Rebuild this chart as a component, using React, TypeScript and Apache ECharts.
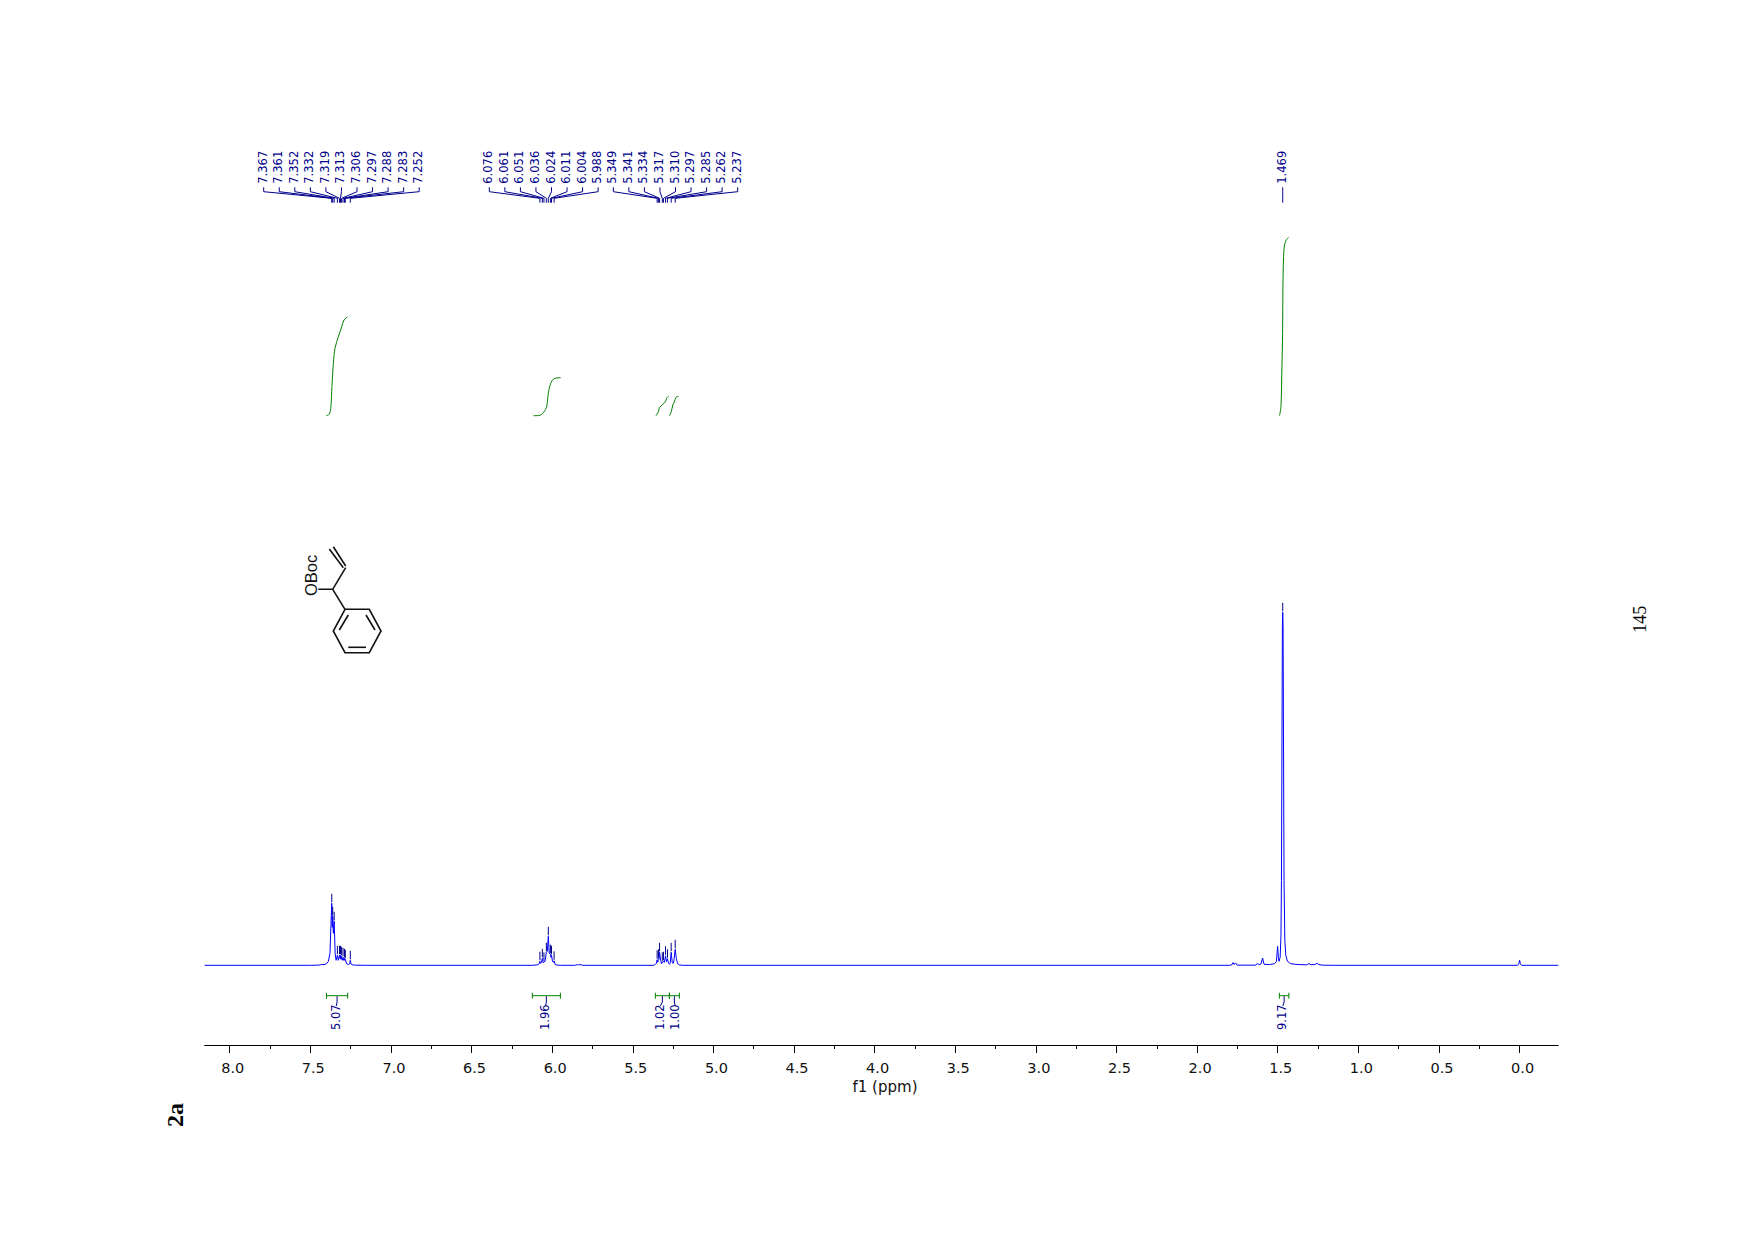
import React, { useEffect, useRef } from "react";
import * as echarts from "echarts";

// Spectrum: [ppm, intensity]
const spectrumAromatic = [[8.155,0],[7.5,0],[7.445,0.2],[7.43,0.8],[7.415,0.6],[7.40,1.5],[7.388,4],[7.378,12],[7.372,40],[7.367,62],[7.364,38],[7.361,49],[7.357,32],[7.352,44],[7.346,12],[7.34,5],[7.332,10],[7.326,5],[7.319,10],[7.316,7],[7.313,10],[7.31,6],[7.306,9],[7.302,5],[7.297,8],[7.293,5],[7.288,7],[7.286,5],[7.283,6],[7.275,1.5],[7.262,0.8],[7.256,1.5],[7.252,5],[7.248,1.5],[7.24,0.5],[7.22,0.1],[7.15,0]];
const spectrumVinylCH = [[6.12,0],[6.09,0.5],[6.08,1.5],[6.076,4],[6.071,2],[6.066,3],[6.061,7],[6.056,2.5],[6.051,3.5],[6.044,4],[6.036,13],[6.03,14],[6.024,29],[6.018,12],[6.011,11],[6.007,8],[6.004,10],[5.998,4],[5.992,3],[5.988,4.5],[5.982,1],[5.97,0.2],[5.95,0]];
const spectrumSmall = [[5.86,0],[5.843,0.8],[5.835,0.2],[5.827,0.8],[5.81,0]];
const spectrumVinylCH2 = [[5.37,0],[5.36,1],[5.354,2],[5.349,5.5],[5.345,3],[5.341,6.5],[5.337,6],[5.334,13],[5.327,5],[5.322,1.5],[5.317,3.5],[5.313,3],[5.31,4],[5.304,3],[5.297,9.5],[5.291,3.5],[5.285,6.5],[5.278,2],[5.272,1],[5.267,3],[5.262,13],[5.255,2.5],[5.248,2],[5.243,7],[5.237,16],[5.23,7],[5.222,1.5],[5.21,0.3],[5.19,0]];
const spectrumAliphatic = [[1.8,0],[1.786,0.3],[1.778,2.7],[1.77,0.8],[1.762,2.4],[1.752,0.2],[1.64,0.1],[1.625,1.7],[1.615,0.6],[1.604,1.4],[1.594,7.3],[1.585,1],[1.55,0.8],[1.52,1.6],[1.508,4],[1.501,19],[1.496,8],[1.492,4],[1.485,8],[1.48,30],[1.477,85],[1.471,340],[1.469,353],[1.467,340],[1.461,85],[1.456,25],[1.45,10],[1.44,4],[1.42,1.6],[1.38,0.8],[1.32,0.5],[1.306,1.7],[1.295,0.6],[1.27,0.7],[1.257,2],[1.245,0.7],[1.22,0.1],[1.15,0],[0.012,0],[0.005,1.5],[0,5],[-0.005,1.5],[-0.012,0],[-0.24,0]];

// Picked peaks: ppm and the height of the peak each label belongs to
const aromaticPpm = [7.367,7.361,7.352,7.332,7.319,7.313,7.306,7.297,7.288,7.283,7.252];
const aromaticHeight = [62,49,44,10,10,10,9,8,7,6,5];
const vinylCHPpm = [6.076,6.061,6.051,6.036,6.024,6.011,6.004,5.988];
const vinylCHHeight = [4,7,3.5,13,29,11,10,4.5];
const vinylCH2Ppm = [5.349,5.341,5.334,5.317,5.31,5.297,5.285,5.262,5.237];
const vinylCH2Height = [5.5,6.5,13,3.5,4,9.5,6.5,13,16];
const tertButylPpm = [1.469];
const tertButylHeight = [353];

// Integral regions: [from ppm, to ppm, value]
const integralRegions = [[7.40,7.268,"5.07"],[6.123,5.949,"1.96"],[5.36,5.273,"1.02"],[5.273,5.211,"1.00"],[1.49,1.431,"9.17"]];

// Integral curves: [ppm, height]
const integralCurve1 = [[7.401,549.6],[7.382,551.3],[7.372,558.6],[7.366,578.6],[7.357,602],[7.347,617],[7.326,628.6],[7.305,638.6],[7.291,645.3],[7.27,648.3]];
const integralCurve2 = [[6.116,549.6],[6.075,550],[6.05,553.6],[6.034,558.6],[6.024,572],[6.009,582],[5.988,586.6],[5.947,587.6]];
const integralCurve3 = [[5.356,549.6],[5.341,553.6],[5.335,557.6],[5.314,561],[5.298,563.6],[5.29,567],[5.277,569.3]];
const integralCurve4 = [[5.273,549.6],[5.261,553.6],[5.252,560.3],[5.242,563.6],[5.232,568],[5.215,569]];
const integralCurve5 = [[1.489,549.6],[1.48,558.6],[1.474,598.6],[1.47,632],[1.468,675.3],[1.464,708.6],[1.458,720.3],[1.447,725.3],[1.433,728]];

const majorTicks = [0,0.5,1,1.5,2,2.5,3,3.5,4,4.5,5,5.5,6,6.5,7,7.5,8];
const minorTicks = [0.25,0.75,1.25,1.75,2.25,2.75,3.25,3.75,4.25,4.75,5.25,5.75,6.25,6.75,7.25,7.75];

const NAVY = "#00008b";
const GREEN = "#008000";
const FONT = "DejaVu Sans";

const peakSeries = (ppm: number[], height: number[], firstLabelX: number | null) => ({
  type: "custom",
  xAxisIndex: 0,
  yAxisIndex: 0,
  z: 5,
  clip: false,
  silent: true,
  data: ppm.map((p, i) => [p, height[i]]),
  encode: { x: 0, y: 1 },
  renderItem: (params: any, api: any) => {
    const pt = api.coord([api.value(0), api.value(1)]);
    const tx = firstLabelX === null ? pt[0] : firstLabelX + params.dataIndex * 15.55;
    const stroke = { stroke: NAVY, lineWidth: 1, fill: "none" };
    return {
      type: "group",
      children: [
        { type: "polyline", shape: { points: [[tx, 187.3], [tx, 191.7], [pt[0], 198.3], [pt[0], 202.7]] }, style: stroke },
        { type: "line", shape: { x1: pt[0], y1: pt[1] - 1, x2: pt[0], y2: pt[1] - 9.5 }, style: { stroke: NAVY, lineWidth: 1 } },
        {
          type: "text",
          x: tx - 1,
          y: 183.7,
          rotation: Math.PI / 2,
          style: { text: api.value(0).toFixed(3), fill: NAVY, font: `11.5px "${FONT}"`, textAlign: "left", textVerticalAlign: "middle" },
        },
      ],
    };
  },
});

const labelNudge = [-0.8, -0.8, -2, 0.8, -1.3];

const integralSeries = {
  type: "custom",
  xAxisIndex: 0,
  yAxisIndex: 0,
  z: 5,
  clip: false,
  silent: true,
  data: integralRegions.map((r, i) => [r[0], r[1], i]),
  encode: { x: [0, 1] },
  renderItem: (params: any, api: any) => {
    const a = api.coord([api.value(0), 0])[0];
    const b = api.coord([api.value(1), 0])[0];
    const i = api.value(2);
    const mid = (a + b) / 2;
    const lx = mid + labelNudge[i];
    const y = 995.7;
    const green = { stroke: GREEN, lineWidth: 1 };
    return {
      type: "group",
      children: [
        { type: "line", shape: { x1: a, y1: y, x2: b, y2: y }, style: green },
        { type: "line", shape: { x1: a, y1: y - 3, x2: a, y2: y + 3 }, style: green },
        { type: "line", shape: { x1: b, y1: y - 3, x2: b, y2: y + 3 }, style: green },
        { type: "polyline", shape: { points: [[mid, y + 0.5], [mid, 1002], [lx, 1006]] }, style: { stroke: NAVY, lineWidth: 1, fill: "none" } },
        {
          type: "text",
          x: lx - 0.5,
          y: 1030,
          rotation: Math.PI / 2,
          style: { text: String(integralRegions[i][2]), fill: NAVY, font: `11.5px "${FONT}"`, textAlign: "left", textVerticalAlign: "middle" },
        },
      ],
    };
  },
};

const curve = (data: number[][]) => ({
  type: "line",
  data,
  xAxisIndex: 0,
  yAxisIndex: 0,
  showSymbol: false,
  smooth: 0.3,
  silent: true,
  lineStyle: { color: GREEN, width: 1 },
});

const bond = (points: number[][]) => ({
  type: "polyline",
  shape: { points },
  style: { stroke: "#111111", lineWidth: 1.6, fill: "none" },
});

export default function App() {
  const ref = useRef<HTMLDivElement>(null);
  useEffect(() => {
    const chart = echarts.init(ref.current!, null, { renderer: "svg" });
    chart.setOption({
      animation: false,
      backgroundColor: "#ffffff",
      grid: { left: 204.7, top: 100, width: 1353.6, height: 945, containLabel: false },
      xAxis: [
        {
          type: "value",
          inverse: true,
          min: -0.24,
          max: 8.155,
          position: "bottom",
          splitLine: { show: false },
          axisLine: { show: true, onZero: false, lineStyle: { color: "#000000", width: 1 } },
          axisTick: { show: true, inside: false, length: 8, customValues: majorTicks, lineStyle: { color: "#000000", width: 1 } },
          axisLabel: { show: true, customValues: majorTicks, margin: 15, padding: [0, 0, 0, 6], color: "#111111", fontFamily: FONT, fontSize: 14.5, formatter: (v: number) => v.toFixed(1) },
          name: "f1 (ppm)",
          nameLocation: "middle",
          nameGap: 29,
          nameTextStyle: { color: "#111111", fontFamily: FONT, fontSize: 15, padding: [0, 0, 0, 7] },
        },
        {
          type: "value",
          inverse: true,
          min: -0.24,
          max: 8.155,
          position: "bottom",
          splitLine: { show: false },
          axisLine: { show: false, onZero: false },
          axisTick: { show: true, length: 4, customValues: minorTicks, lineStyle: { color: "#000000", width: 1 } },
          axisLabel: { show: false },
        },
      ],
      yAxis: { type: "value", min: -79.7, max: 865.3, show: false, splitLine: { show: false } },
      series: [
        {
          type: "line",
          data: [...spectrumAromatic, ...spectrumVinylCH, ...spectrumSmall, ...spectrumVinylCH2, ...spectrumAliphatic],
          xAxisIndex: 0,
          yAxisIndex: 0,
          showSymbol: false,
          silent: true,
          lineStyle: { color: "#0000ff", width: 1 },
          z: 3,
        },
        curve(integralCurve1),
        curve(integralCurve2),
        curve(integralCurve3),
        curve(integralCurve4),
        curve(integralCurve5),
        peakSeries(aromaticPpm, aromaticHeight, 263.7),
        peakSeries(vinylCHPpm, vinylCHHeight, 489.3),
        peakSeries(vinylCH2Ppm, vinylCH2Height, 613.3),
        peakSeries(tertButylPpm, tertButylHeight, null),
        integralSeries,
      ],
      graphic: [
        bond([[329.3, 549], [343.3, 567.7]]),
        bond([[333.3, 546.7], [345.7, 566]]),
        bond([[345.7, 567.7], [332.7, 589.3], [318.3, 589.3]]),
        bond([[332.7, 589.3], [345, 609.3]]),
        bond([[345, 609.3], [369.3, 609.3], [381, 631], [369.3, 652.7], [345, 652.7], [333.3, 631], [345, 609.3]]),
        bond([[348.3, 615], [339.3, 630]]),
        bond([[366, 615], [375, 630]]),
        bond([[348.3, 647.3], [366, 647.3]]),
        { type: "text", x: 310.7, y: 596, rotation: Math.PI / 2, style: { text: "OBoc", fill: "#111111", font: '16.5px "Liberation Sans"', textAlign: "left", textVerticalAlign: "middle" } },
        { type: "text", x: 1640, y: 619.3, rotation: Math.PI / 2, style: { text: "145", fill: "#000000", font: '18px "Liberation Serif"', textAlign: "center", textVerticalAlign: "middle" } },
        { type: "text", x: 175, y: 1115, rotation: Math.PI / 2, style: { text: "2a", fill: "#000000", font: 'bold 24px "Liberation Serif"', textAlign: "center", textVerticalAlign: "middle" } },
      ],
    });
    return () => chart.dispose();
  }, []);
  return <div ref={ref} style={{ position: "fixed", left: 0, top: 0, width: 1754, height: 1240, background: "#fff" }} />;
}
